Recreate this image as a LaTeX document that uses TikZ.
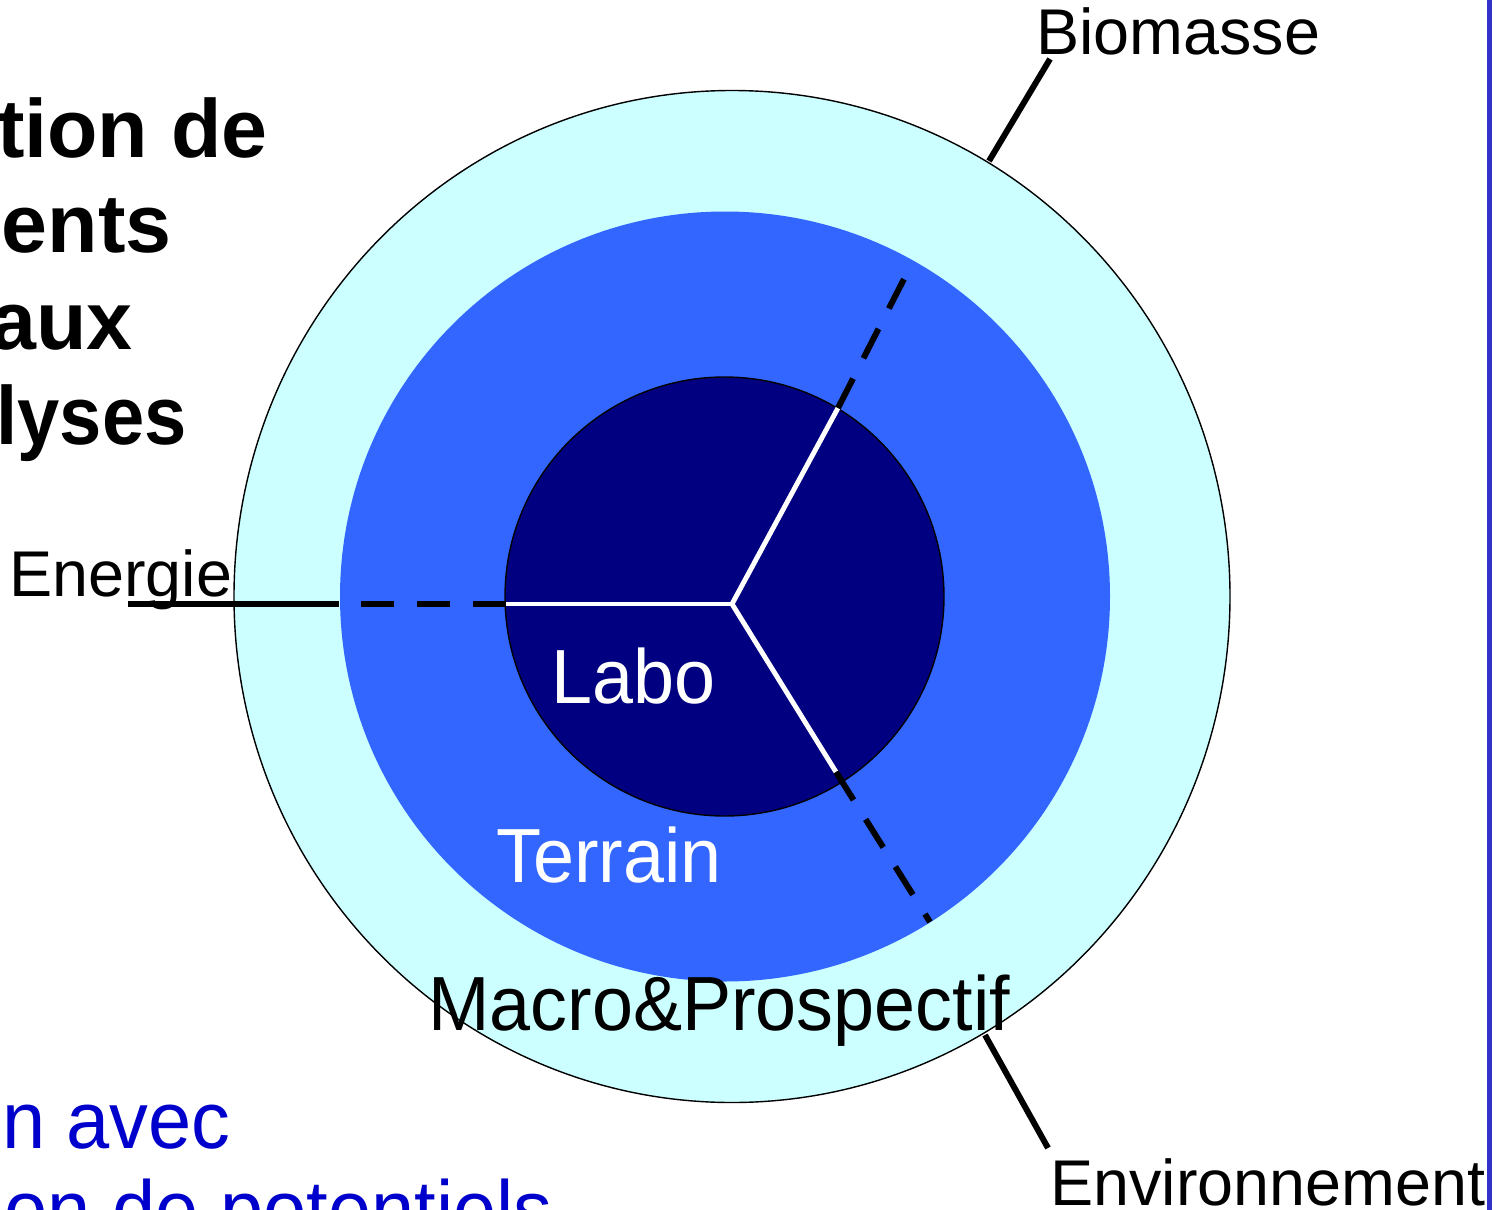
\documentclass[tikz,border=0pt]{standalone}
\usepackage{fontspec}
\setmainfont{Liberation Sans}
\newfontfamily\narrowfont[FakeStretch=0.96]{Liberation Sans}
\newfontfamily\narrowbold[FakeStretch=0.92]{Liberation Sans Bold}
\usepackage{xcolor}
\usepackage{tikz}
\usetikzlibrary{calc}
\definecolor{outerRing}{HTML}{CCFFFF}
\definecolor{middleRing}{HTML}{3366FF}
\definecolor{innerCore}{HTML}{000080}
\definecolor{frameBlue}{HTML}{3333CC}
\definecolor{noteBlue}{HTML}{0000CC}
\tikzset{
  every ring/.style={line width=0.8pt},
  every leader/.style={draw=black,line width=3.4pt},
}

\begin{document}
\begin{tikzpicture}[
  x=0.02cm, y=-0.02cm,
  spoke/.style={draw=white,line width=2.8pt},
  dash spoke/.style={every leader,dash pattern=on 18.8pt off 13pt},
  ring text/.style={inner sep=0pt,anchor=base west,font=\narrowfont\fontsize{43.7}{52}\selectfont},
  side text/.style={inner sep=0pt,anchor=base west,font=\fontsize{36.8}{44}\selectfont},
  title text/.style={inner sep=0pt,anchor=base east,font=\bfseries\fontsize{47}{56}\selectfont},
  title narrow/.style={title text,font=\narrowbold\fontsize{47}{56}\selectfont},
  note text/.style={inner sep=0pt,anchor=base east,text=noteBlue,font=\narrowfont\fontsize{46}{55}\selectfont},
]
\fill[white] (0,0) rectangle (1498,1210);
\useasboundingbox (0,0) rectangle (1498,1210);

% rings
\draw[every ring,fill=outerRing] (732,596.5) ellipse [x radius=498,y radius=506];
\fill[middleRing] (725,596.5) circle [radius=385];
\draw[every ring,fill=innerCore] (724.5,596.5) circle [radius=219.5];

\coordinate (hub) at (732,604);
\coordinate (coreW) at (506,604);
\coordinate (coreNE) at (838,408);
\coordinate (coreSE) at (836,772);
\coordinate (tipW) at (339,604);
\coordinate (tipNE) at (905,277);
\coordinate (tipSE) at (930,922);
\coordinate (energieEnd) at (128,604);
\coordinate (bioIn) at (989,161);
\coordinate (bioOut) at (1050,59);
\coordinate (envIn) at (985,1035);
\coordinate (envOut) at (1048,1148);
\coordinate (frameTop) at (1489.5,0);
\coordinate (frameBottom) at (1489.5,1210);

\foreach \k in {W,NE,SE} {
  \draw[spoke] (hub) -- (core\k);
  \draw[dash spoke] (core\k) -- (tip\k);
}

\node[ring text,text=white] (labo) at (551,703) {Labo};
\node[ring text,text=white] (terrain) at (496,882) {Terrain};
\node[ring text] (macro) at (428,1030) {Macro\&Prospectif};

\node[side text] (energie) at (9,596) {Energie};
\node[side text] (biomasse) at (1036,54) {Biomasse};
\node[side text] (environnement) at (1050,1205) {Environnement};

\draw[every leader] (tipW) -- (energieEnd);
\draw[every leader] (bioIn) -- (bioOut);
\draw[every leader] (envIn) -- (envOut);

\node[title text] (titleA) at (268,157) {tion de};
\node[title text] (titleB) at (172,252) {ents};
\node[title text] (titleC) at (133,349) {aux};
\node[title narrow] (titleD) at (187,444) {lyses};

\node[note text] (noteA) at (231,1148) {n avec};
\node[note text] (noteB) at (553,1237) {on de potentiels};

\draw[frameBlue,line width=2.85pt] (frameTop) -- (frameBottom);
\end{tikzpicture}
\end{document}
